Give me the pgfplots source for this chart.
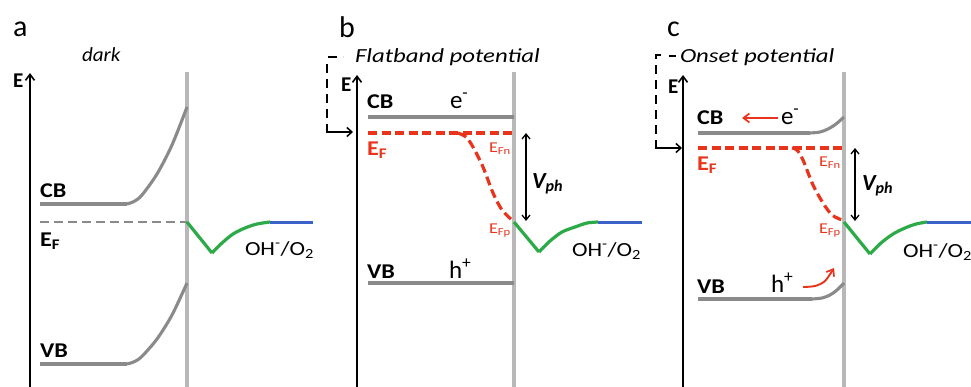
\documentclass[border=0pt]{standalone}
\usepackage{fontspec}
\setmainfont{Carlito}
\usepackage{graphicx}
\usepackage{pgfplots}
\pgfplotsset{compat=1.18}
\usetikzlibrary{arrows.meta}

\definecolor{bandgray}{HTML}{8A8A8A}
\definecolor{surfgray}{HTML}{B8B8B8}
\definecolor{fermired}{HTML}{E8341C}
\definecolor{elgreen}{HTML}{2DAA48}
\definecolor{redoxblue}{HTML}{3A62C8}

\newcommand{\fs}[1]{\fontsize{#1}{#1}\selectfont}
% horizontally widened label text
\newcommand{\xs}[2]{\scalebox{#1}[1]{#2}}

\begin{document}
\begin{tikzpicture}[lbl/.style={inner sep=0pt, outer sep=0pt, anchor=base west}]
\begin{axis}[name=ax, at={(0,0)}, anchor=south west,
  scale only axis, width=971pt, height=386pt,
  xmin=0, xmax=971, ymin=0, ymax=386, y dir=reverse,
  axis lines=none, clip=false, no markers,
  surf/.style={surfgray, line width=4.5pt},
  band/.style={bandgray, line width=3.1pt},
  efdash/.style={fermired, line width=3.2pt, dash pattern=on 9pt off 4.5pt},
  efgray/.style={bandgray, line width=2.8pt, dash pattern=on 9pt off 5pt},
  elec/.style={elgreen, line width=3.2pt, line join=round},
  redox/.style={redoxblue, line width=3pt},
  eaxis/.style={black, line width=1.8pt, -{Straight Barb[length=6pt,width=9pt,line width=1.6pt]}},
  vph/.style={black, line width=1.3pt, {Straight Barb[length=5pt,width=8pt]}-{Straight Barb[length=5pt,width=8pt]}},
  brk/.style={black, line width=1.7pt, dash pattern=on 9pt off 6pt},
  brkarrow/.style={black, line width=1.5pt, -{Straight Barb[length=5pt,width=9pt]}},
  redarrow/.style={fermired, line width=1.9pt, -{Straight Barb[length=6pt,width=9pt,line width=1.7pt]}},
]

%% ---------- (a) dark ----------
\addplot[surf] coordinates {(187,72) (187,392)};
\addplot[eaxis] coordinates {(30,392) (30,73)};
\addplot[band] coordinates {(40,204) (127,204)};
\addplot[band, smooth] coordinates {(127,204) (134.5,201.2) (142,195) (157,174) (172,145) (187,107)};
\addplot[band] coordinates {(40,364) (127,364)};
\addplot[band, smooth] coordinates {(127,364) (134.5,361.6) (142,356.3) (157,339) (172,315) (187,283)};
\addplot[efgray] coordinates {(40,222) (187,222)};
\addplot[elec] coordinates {(187,222) (212,253)};
\addplot[elec, smooth] coordinates {(212,253) (222,243) (233,234) (245,228) (257,224) (270,222)};
\addplot[redox] coordinates {(270,222) (313,222)};

\node[lbl] at (axis cs:13,36) {\fs{30}a};
\node[lbl] at (axis cs:82,61) {\xs{1.05}{\fs{20}\itshape dark}};
\node[lbl] at (axis cs:13,87) {\fs{21}\bfseries E};
\node[lbl] at (axis cs:40,197) {\xs{1.15}{\fs{21}\bfseries CB}};
\node[lbl] at (axis cs:40,246) {\xs{1.15}{\fs{21}\bfseries E\textsubscript{F}}};
\node[lbl] at (axis cs:40,357) {\xs{1.15}{\fs{21}\bfseries VB}};
\node[lbl] at (axis cs:245,255) {\xs{1.17}{\fs{20}OH\textsuperscript{-}/O\textsubscript{2}}};

%% ---------- (b) flatband potential ----------
\addplot[surf] coordinates {(514,72) (514,392)};
\addplot[eaxis] coordinates {(357,392) (357,75)};
\addplot[band] coordinates {(368,117) (514,117)};
\addplot[band] coordinates {(368,283) (514,283)};
\addplot[efdash] coordinates {(368,133) (512,133)};
\addplot[efdash, smooth] coordinates {(458,133) (466,137) (473,147) (483,167) (493,193) (502,210) (512,220)};
\addplot[vph] coordinates {(526,133) (526,221)};
\addplot[elec] coordinates {(514,222) (539,252)};
\addplot[elec, smooth] coordinates {(539,252) (550,241) (562,232) (575,227) (587,223) (598,222)};
\addplot[redox] coordinates {(598,222) (642,222)};
\addplot[brk, line width=1.5pt] coordinates {(328,57) (343,57)};
\addplot[brk] coordinates {(327,64) (327,132)};
\addplot[brkarrow] coordinates {(326.2,132) (353,132)};

\node[lbl] at (axis cs:339,37) {\fs{30}b};
\node[lbl] at (axis cs:355,62) {\xs{1.24}{\fs{20}\itshape Flatband potential}};
\node[lbl] at (axis cs:341,91) {\fs{21}\bfseries E};
\node[lbl] at (axis cs:367,108) {\xs{1.15}{\fs{21}\bfseries CB}};
\node[lbl] at (axis cs:450,108) {\fs{25}e\textsuperscript{-}};
\node[lbl] at (axis cs:367,155) {\xs{1.15}{\fs{21}\bfseries\color{fermired}E\textsubscript{F}}};
\node[lbl] at (axis cs:489,152) {\xs{1.2}{\fs{15}\color{fermired}E\textsubscript{Fn}}};
\node[lbl] at (axis cs:532,188) {\fs{23}\bfseries\itshape V\textsubscript{ph}};
\node[lbl] at (axis cs:489,233) {\xs{1.2}{\fs{15}\color{fermired}E\textsubscript{Fp}}};
\node[lbl] at (axis cs:572,256) {\xs{1.17}{\fs{20}OH\textsuperscript{-}/O\textsubscript{2}}};
\node[lbl] at (axis cs:367,278) {\xs{1.15}{\fs{21}\bfseries VB}};
\node[lbl] at (axis cs:449,278) {\fs{25}h\textsuperscript{+}};

%% ---------- (c) onset potential ----------
\addplot[surf] coordinates {(844,72) (844,392)};
\addplot[eaxis] coordinates {(683,392) (683,75)};
\addplot[band] coordinates {(698,133) (810,133)};
\addplot[band, smooth] coordinates {(810,133) (820,132) (828,129) (836,124) (844,117)};
\addplot[band] coordinates {(698,299) (812,299)};
\addplot[band, smooth] coordinates {(812,299) (822,298) (830,295) (837,290) (844,283)};
\addplot[efdash] coordinates {(698,148) (842,148)};
\addplot[efdash, smooth] coordinates {(792,148) (797,150) (803,160) (813,185) (823,203) (832,215) (842,220)};
\addplot[vph] coordinates {(855,148) (855,221)};
\addplot[elec] coordinates {(844,222) (870,254)};
\addplot[elec, smooth] coordinates {(870,254) (881,243) (893,234) (905,228) (916,224) (927,222)};
\addplot[redox] coordinates {(927,222) (980,222)};
\addplot[brk] coordinates {(661,55) (656,55) (656,148)};
\addplot[brk, line width=1.5pt] coordinates {(669,56) (676,56)};
\addplot[brkarrow] coordinates {(655.2,148) (682,148)};
\addplot[redarrow] coordinates {(778,118) (742,118)};
\addplot[redarrow, smooth] coordinates {(803,287) (815,286) (825,281) (834,268)};

\node[lbl] at (axis cs:667,36) {\fs{30}c};
\node[lbl] at (axis cs:680,62) {\xs{1.24}{\fs{20}\itshape Onset potential}};
\node[lbl] at (axis cs:668,93) {\fs{21}\bfseries E};
\node[lbl] at (axis cs:697,124) {\xs{1.15}{\fs{21}\bfseries CB}};
\node[lbl] at (axis cs:781,124) {\fs{25}e\textsuperscript{-}};
\node[lbl] at (axis cs:697,170) {\xs{1.15}{\fs{21}\bfseries\color{fermired}E\textsubscript{F}}};
\node[lbl] at (axis cs:819,166) {\xs{1.2}{\fs{15}\color{fermired}E\textsubscript{Fn}}};
\node[lbl] at (axis cs:862,190) {\fs{23}\bfseries\itshape V\textsubscript{ph}};
\node[lbl] at (axis cs:819,233) {\xs{1.2}{\fs{15}\color{fermired}E\textsubscript{Fp}}};
\node[lbl] at (axis cs:903,257) {\xs{1.17}{\fs{20}OH\textsuperscript{-}/O\textsubscript{2}}};
\node[lbl] at (axis cs:697,293) {\xs{1.15}{\fs{21}\bfseries VB}};
\node[lbl] at (axis cs:771,292) {\fs{25}h\textsuperscript{+}};
\end{axis}
\pgfresetboundingbox
\path (ax.south west) rectangle (ax.north east);
\end{tikzpicture}
\end{document}
